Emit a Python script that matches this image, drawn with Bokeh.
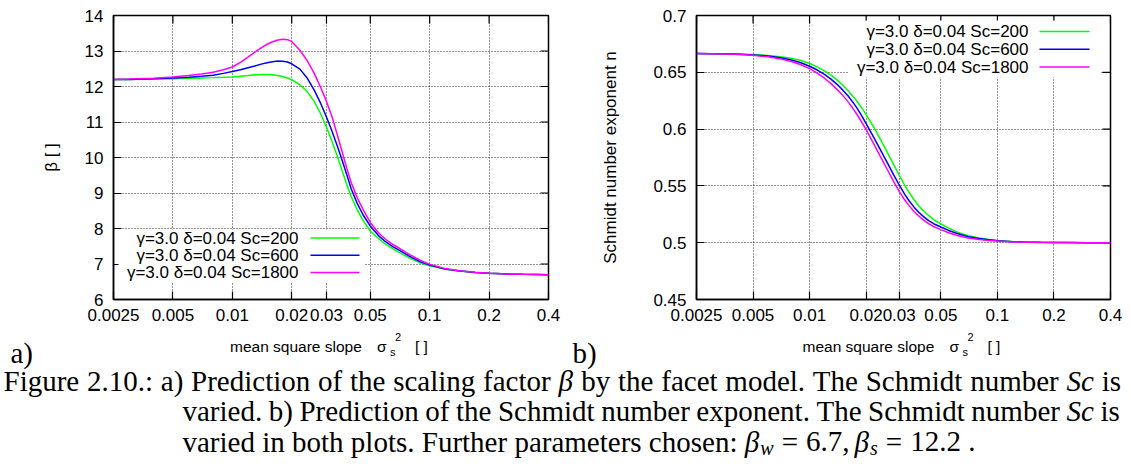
import math
from bokeh.plotting import figure
from bokeh.models import (Range1d, FixedTicker, CustomJSTickFormatter, Label, BoxAnnotation,
                          Arrow, AllLabels, ColumnDataSource)
from bokeh.layouts import row, column
from bokeh.embed import file_html
from bokeh.resources import INLINE
from bokeh.core.properties import value

SANS = "Liberation Sans"
SERIF = "Liberation Serif"

# ---------------- data ----------------
X = [0.0025, 0.003, 0.004, 0.005, 0.006, 0.007, 0.008, 0.009, 0.01, 0.011, 0.012, 0.013,
     0.014, 0.015, 0.016, 0.017, 0.018, 0.019, 0.02, 0.022, 0.024, 0.026, 0.028, 0.03,
     0.032, 0.034, 0.036, 0.038, 0.04, 0.043, 0.046, 0.05, 0.055, 0.06, 0.065, 0.07,
     0.08, 0.09, 0.1, 0.12, 0.14, 0.17, 0.2, 0.25, 0.3, 0.4]

BETA_SC200 = [12.20, 12.20, 12.21, 12.22, 12.23, 12.24, 12.25, 12.26, 12.27, 12.29, 12.31, 12.33,
              12.34, 12.34, 12.33, 12.31, 12.28, 12.24, 12.19, 12.05, 11.85, 11.58, 11.24, 10.86,
              10.45, 10.04, 9.63, 9.24, 8.90, 8.52, 8.22, 7.93, 7.72, 7.55, 7.43, 7.33,
              7.15, 7.03, 6.95, 6.85, 6.80, 6.76, 6.74, 6.72, 6.71, 6.70]
BETA_SC600 = [12.20, 12.20, 12.22, 12.24, 12.26, 12.29, 12.32, 12.37, 12.42, 12.47, 12.53, 12.58,
              12.63, 12.67, 12.70, 12.72, 12.71, 12.69, 12.64, 12.49, 12.23, 11.90, 11.53, 11.14,
              10.74, 10.33, 9.92, 9.52, 9.12, 8.70, 8.38, 8.07, 7.80, 7.62, 7.49, 7.39,
              7.20, 7.06, 6.97, 6.86, 6.81, 6.76, 6.74, 6.72, 6.71, 6.70]
BETA_SC1800 = [12.20, 12.21, 12.23, 12.27, 12.31, 12.35, 12.40, 12.47, 12.55, 12.68, 12.83, 12.97,
               13.09, 13.19, 13.26, 13.31, 13.33, 13.32, 13.27, 13.02, 12.72, 12.37, 11.98, 11.58,
               11.15, 10.65, 10.16, 9.70, 9.30, 8.86, 8.53, 8.17, 7.88, 7.69, 7.55, 7.45,
               7.25, 7.10, 6.99, 6.87, 6.81, 6.77, 6.74, 6.72, 6.71, 6.70]

N_SC200 = [0.6665, 0.6664, 0.6661, 0.6656, 0.6648, 0.6637, 0.6623, 0.6604, 0.6578, 0.6548, 0.6513, 0.6475,
           0.6433, 0.6388, 0.6340, 0.6290, 0.6238, 0.6184, 0.6128, 0.6015, 0.5900, 0.5790, 0.5690, 0.5595,
           0.5510, 0.5438, 0.5378, 0.5328, 0.5288, 0.5240, 0.5200, 0.5165, 0.5128, 0.5100, 0.5078, 0.5062,
           0.5042, 0.5029, 0.5020, 0.5010, 0.5006, 0.5003, 0.5002, 0.5001, 0.5000, 0.5000]
N_SC600 = [0.6665, 0.6664, 0.6660, 0.6653, 0.6643, 0.6629, 0.6609, 0.6584, 0.6553, 0.6520, 0.6482, 0.6440,
           0.6394, 0.6345, 0.6293, 0.6237, 0.6178, 0.6115, 0.6048, 0.5925, 0.5808, 0.5700, 0.5600, 0.5508,
           0.5430, 0.5365, 0.5313, 0.5270, 0.5236, 0.5195, 0.5165, 0.5138, 0.5108, 0.5085, 0.5067, 0.5053,
           0.5036, 0.5025, 0.5018, 0.5009, 0.5005, 0.5003, 0.5002, 0.5001, 0.5000, 0.5000]
N_SC1800 = [0.6665, 0.6663, 0.6658, 0.6649, 0.6636, 0.6618, 0.6595, 0.6566, 0.6532, 0.6492, 0.6448, 0.6400,
            0.6350, 0.6297, 0.6242, 0.6183, 0.6122, 0.6058, 0.5995, 0.5868, 0.5748, 0.5640, 0.5540, 0.5452,
            0.5380, 0.5322, 0.5275, 0.5237, 0.5205, 0.5168, 0.5140, 0.5115, 0.5088, 0.5068, 0.5053, 0.5042,
            0.5029, 0.5020, 0.5014, 0.5007, 0.5004, 0.5002, 0.5001, 0.5000, 0.5000, 0.5000]

X_TICKS = [0.0025, 0.005, 0.01, 0.02, 0.03, 0.05, 0.1, 0.2, 0.4]
X_TICK_LABELS = ["0.0025", "0.005", "0.01", "0.02", "0.03", "0.05", "0.1", "0.2", "0.4"]
BETA_TICKS = [6, 7, 8, 9, 10, 11, 12, 13, 14]
BETA_TICK_LABELS = ["6", "7", "8", "9", "10", "11", "12", "13", "14"]
N_TICKS = [0.45, 0.5, 0.55, 0.6, 0.65, 0.7]
N_TICK_LABELS = ["0.45", "0.5", "0.55", "0.6", "0.65", "0.7"]

SERIES_NAMES = ["γ=3.0 δ=0.04 Sc=200", "γ=3.0 δ=0.04 Sc=600", "γ=3.0 δ=0.04 Sc=1800"]
COLORS = ["#00ff00", "#0000ff", "#ff00ff"]

# ---------------- layout constants ----------------
PH = 330           # panel height
FRAME_TOP = 15
FRAME_BOTTOM = 299
FH = FRAME_BOTTOM - FRAME_TOP
GP_FONT = "17px"   # gnuplot text size
TICK_LEN = 8


def tick_formatter(ticks, labels):
    return CustomJSTickFormatter(args=dict(tv=ticks, tl=labels), code="""
const i = tv.findIndex((v) => Math.abs(v - tick) <= 1e-9 * Math.abs(v));
return i >= 0 ? tl[i] : "";
""")


def style_axis(ax, ticks, labels, standoff):
    ax.ticker = FixedTicker(ticks=ticks)
    ax.formatter = tick_formatter(ticks, labels)
    ax.major_tick_in = TICK_LEN
    ax.major_tick_out = 0
    ax.minor_tick_in = 0
    ax.minor_tick_out = 0
    ax.major_tick_line_width = 1.2
    ax.axis_line_width = 1.5
    ax.axis_line_color = "black"
    ax.major_tick_line_color = "black"
    ax.major_label_policy = AllLabels()
    ax.major_label_text_font = SANS
    ax.major_label_text_color = "black"
    ax.major_label_text_font_size = GP_FONT
    ax.major_label_standoff = standoff


def panel(width, b_left, b_right, yr, yticks, ylabels, series, ytitle, ytitle_standoff,
          legend_rows, legend_text_right, legend_line, legend_box):
    p = figure(width=width, height=PH, x_axis_type="log",
               x_range=Range1d(X_TICKS[0], X_TICKS[-1]), y_range=Range1d(yr[0], yr[1]),
               output_backend="svg", toolbar_location=None,
               min_border_left=b_left, min_border_right=b_right,
               min_border_top=FRAME_TOP, min_border_bottom=PH - FRAME_BOTTOM)
    p.background_fill_color = "white"
    p.border_fill_color = "white"
    p.outline_line_color = "black"
    p.outline_line_width = 1.5

    style_axis(p.xaxis[0], X_TICKS, X_TICK_LABELS, 9)
    style_axis(p.yaxis[0], yticks, ylabels, 10)
    ya = p.yaxis[0]
    ya.axis_label = ytitle
    ya.axis_label_text_font = SANS
    ya.axis_label_text_font_size = GP_FONT
    ya.axis_label_text_font_style = "normal"
    ya.axis_label_text_color = "black"
    ya.axis_label_standoff = ytitle_standoff

    for g, t in ((p.xgrid[0], X_TICKS), (p.ygrid[0], yticks)):
        g.ticker = FixedTicker(ticks=t)
        g.grid_line_color = "#000000"
        g.grid_line_dash = "1 2"
        g.grid_line_width = 1
        g.grid_line_alpha = 0.85

    # mirrored tick marks on the top and right frame edges (gnuplot style)
    fw = width - b_left - b_right
    dy = TICK_LEN * (yr[1] - yr[0]) / FH
    p.segment(x0=X_TICKS, y0=[yr[1]] * len(X_TICKS), x1=X_TICKS, y1=[yr[1] - dy] * len(X_TICKS),
              line_color="black", line_width=1.2)
    decades = math.log10(X_TICKS[-1] / X_TICKS[0])
    xr_in = X_TICKS[-1] / 10 ** (TICK_LEN * decades / fw)
    p.segment(x0=[X_TICKS[-1]] * len(yticks), y0=yticks, x1=[xr_in] * len(yticks), y1=yticks,
              line_color="black", line_width=1.2)

    for ys, c in zip(series, COLORS):
        p.line(X, ys, line_color=c, line_width=1.5)

    # legend (gnuplot style: text right-aligned, sample line on its right, opaque key box)
    l, r, t, b = legend_box
    p.add_layout(BoxAnnotation(left=l, right=r, top=t, bottom=b,
                               left_units="screen", right_units="screen",
                               top_units="screen", bottom_units="screen",
                               fill_color="white", fill_alpha=1.0, line_color=None))
    for name, c, yrow in zip(SERIES_NAMES, COLORS, legend_rows):
        p.add_layout(Label(x=legend_text_right, y=yrow, x_units="screen", y_units="screen",
                           text=name, text_font=SANS, text_font_size=GP_FONT,
                           text_align="right", text_baseline="middle", text_color="black"))
        p.add_layout(Arrow(end=None, x_start=legend_line[0], y_start=yrow,
                           x_end=legend_line[1], y_end=yrow,
                           start_units="screen", end_units="screen",
                           line_color=c, line_width=1.5))
    return p


p1 = panel(565, 113, 17, (6, 14), BETA_TICKS, BETA_TICK_LABELS,
           [BETA_SC200, BETA_SC600, BETA_SC1800], "β [ ]", 21,
           [61.5, 44.2, 27], 185, (197, 246), (5, 251, 70, 17))

p2 = panel(566, 131, 21, (0.45, 0.7), N_TICKS, N_TICK_LABELS,
           [N_SC200, N_SC600, N_SC1800], "Schmidt number exponent n", 30,
           [268, 250.2, 232.4], 332, (343, 393), (152, 404, 279, 222))

# ---------------- lower strip: x titles, panel tags and caption ----------------
W = 1131
H = 466
CH = H - PH
cap = figure(width=W, height=CH, x_range=Range1d(0, W), y_range=Range1d(H, PH),
             x_axis_location=None, y_axis_location=None, min_border=0,
             output_backend="svg", toolbar_location=None)
cap.outline_line_color = None
cap.background_fill_color = "white"
cap.border_fill_color = "white"
for g in cap.grid:
    g.visible = False


def add_text(xs, ys, texts, font, size, style="normal", align="left"):
    src = ColumnDataSource(dict(x=xs, y=ys, text=texts))
    cap.text(x="x", y="y", text="text", source=src, text_font=value(font),
             text_font_size=value(size), text_font_style=style, text_align=align,
             text_baseline="alphabetic", text_color="black")


# x-axis titles, centred under each frame: "mean square slope  σ_s^2 [ ]"
FRAME_CENTERS = [(113 + 548) / 2, (696 + 1110) / 2]
XT_BASE = 346
XT_FONT = "15.5px"
for fc in FRAME_CENTERS:
    x0 = fc - 101
    add_text([x0, x0 + 185], [XT_BASE, XT_BASE], ["mean square slope", "[ ]"], SANS, XT_FONT)
    add_text([x0 + 147], [XT_BASE], ["σ"], SANS, XT_FONT)
    add_text([x0 + 160], [XT_BASE + 5], ["s"], SANS, "11px")
    add_text([x0 + 165], [XT_BASE - 10], ["2"], SANS, "11px")

# panel tags
add_text([10, 572], [352, 352], ["a)", "b)"], SERIF, "29px")

# caption, set word by word with Times metrics (Liberation Serif is metric compatible)
TIMES_W = {' ': 250, '.': 250, ',': 250, ':': 278, ';': 278, '(': 333, ')': 333, '=': 564,
           'A': 722, 'B': 667, 'C': 667, 'D': 722, 'E': 611, 'F': 556, 'G': 722, 'H': 722,
           'I': 333, 'J': 389, 'K': 722, 'L': 611, 'M': 889, 'N': 722, 'O': 722, 'P': 556,
           'Q': 722, 'R': 667, 'S': 556, 'T': 611, 'U': 722, 'V': 722, 'W': 944, 'X': 722,
           'Y': 722, 'Z': 611, 'a': 444, 'b': 500, 'c': 444, 'd': 500, 'e': 444, 'f': 333,
           'g': 500, 'h': 500, 'i': 278, 'j': 278, 'k': 500, 'l': 278, 'm': 778, 'n': 500,
           'o': 500, 'p': 500, 'q': 500, 'r': 333, 's': 389, 't': 278, 'u': 500, 'v': 500,
           'w': 722, 'x': 500, 'y': 500, 'z': 444}
for d in "0123456789":
    TIMES_W[d] = 500
ITALIC_W = {'S': 500, 'c': 444, 'w': 667, 's': 389, 'β': 520}

CF = 29          # caption font size (px)
SUB = 20         # subscript size
BASELINES = [380, 410.5, 441]


def wwidth(word, italic, size):
    tab = ITALIC_W if italic else TIMES_W
    return sum(tab.get(ch, TIMES_W.get(ch, 500)) for ch in word) / 1000 * size


LINE1 = ["Figure", "2.10.:", "a)", "Prediction", "of", "the", "scaling", "factor", "*β",
         "by", "the", "facet", "model.", "The", "Schmidt", "number", "*Sc", "is"]
LINE2 = ["varied.", "b)", "Prediction", "of", "the", "Schmidt", "number", "exponent.",
         "The", "Schmidt", "number", "*Sc", "is"]
LINE3 = ["varied", "in", "both", "plots.", "Further", "parameters", "chosen:"]


def set_line(words, x_start, y, anchor_word=None, anchor_x=None):
    toks = [(w[1:], True) if w.startswith("*") else (w, False) for w in words]
    widths = [wwidth(t, it, CF) for t, it in toks]
    if anchor_word is None:
        gap = 0.25 * CF
    else:
        k = words.index(anchor_word)
        gap = (anchor_x - x_start - sum(widths[:k])) / k
    x = x_start
    norm_x, norm_t, it_x, it_t = [], [], [], []
    for (t, it), w in zip(toks, widths):
        (it_x if it else norm_x).append(x)
        (it_t if it else norm_t).append(t)
        x += w + gap
    add_text(norm_x, [y] * len(norm_x), norm_t, SERIF, f"{CF}px")
    if it_x:
        add_text(it_x, [y] * len(it_x), it_t, SERIF, f"{CF}px", "italic")
    return x


set_line(LINE1, 3, BASELINES[0], "*Sc", 1066)
set_line(LINE2, 182, BASELINES[1], "*Sc", 1066)
xm = set_line(LINE3, 182, BASELINES[2])

# math part:  β_w = 6.7, β_s = 12.2 .
y3 = BASELINES[2]
med = 0.278 * CF
beta_w = wwidth("β", True, CF)
xb1 = xm
add_text([xb1], [y3], ["β"], SERIF, f"{CF}px", "italic")
add_text([xb1 + beta_w + 0.5], [y3 + 6], ["w"], SERIF, f"{SUB}px", "italic")
xe1 = xb1 + beta_w + 0.5 + wwidth("w", True, SUB) + med
add_text([xe1], [y3], ["="], SERIF, f"{CF}px")
xv1 = xe1 + wwidth("=", False, CF) + med
add_text([xv1], [y3], ["6.7,"], SERIF, f"{CF}px")
xb2 = xv1 + wwidth("6.7,", False, CF) + 0.167 * CF
add_text([xb2], [y3], ["β"], SERIF, f"{CF}px", "italic")
add_text([xb2 + beta_w + 0.5], [y3 + 6], ["s"], SERIF, f"{SUB}px", "italic")
xe2 = xb2 + beta_w + 0.5 + wwidth("s", True, SUB) + med
add_text([xe2], [y3], ["="], SERIF, f"{CF}px")
xv2 = xe2 + wwidth("=", False, CF) + med
add_text([xv2], [y3], ["12.2"], SERIF, f"{CF}px")
add_text([xv2 + wwidth("12.2", False, CF) + 0.25 * CF], [y3], ["."], SERIF, f"{CF}px")

layout = column(row(p1, p2), cap)
open("out.html", "w").write(file_html(layout, INLINE))
